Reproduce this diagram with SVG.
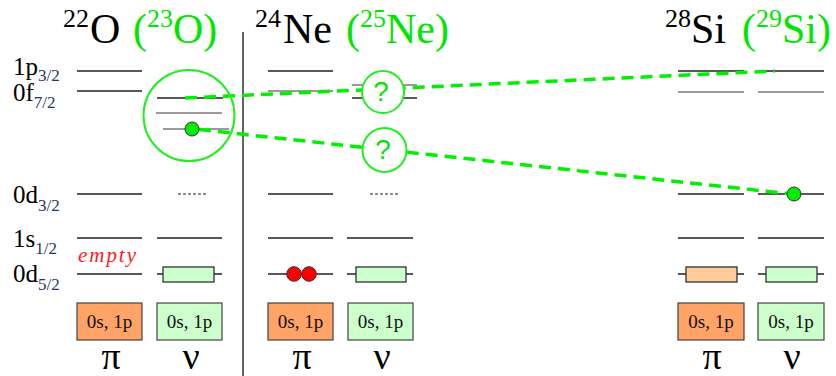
<svg xmlns="http://www.w3.org/2000/svg" width="836" height="376" viewBox="0 0 836 376">
<style>
.s{font-family:'Liberation Serif','DejaVu Serif','Times New Roman',serif}
.t{font-size:42px;fill:#000}
.sup{font-size:26px}
.g{fill:#00e600}
.lbl{font-size:25px;fill:#000}
.sub{font-size:17px;fill:#1f3566}
.lv{stroke:#222;stroke-width:1.4}
.lg{stroke:#7a7a7a;stroke-width:1.6}
.ld{stroke:#222;stroke-width:1.2;stroke-dasharray:3 2}
.dash{stroke:#00f000;stroke-width:3.5;stroke-dasharray:12 7;fill:none}
.ring{fill:none;stroke:#22ee22;stroke-width:2}
.q{fill:#fff;stroke:#22ee22;stroke-width:2}
.qt{font-family:'Liberation Sans','DejaVu Sans',Arial,sans-serif;font-size:28px;fill:#00e600;text-anchor:middle}
.bg{fill:#ccffcc;stroke:#333;stroke-width:1.3}
.bo{fill:#ffcc99;stroke:#333;stroke-width:1.3}
.co{fill:#ffa366;stroke:#444;stroke-width:1.2}
.cg{fill:#ccffcc;stroke:#444;stroke-width:1.2}
.ct{font-size:19px;text-anchor:middle;fill:#111}
.gr{font-size:38px;text-anchor:middle;fill:#000}
.dotg{fill:#00ee00;stroke:#333;stroke-width:1}
.dotr{fill:#ff0000;stroke:#333;stroke-width:1}
</style>
<rect width="836" height="376" fill="#fff"/>

<g id="titles" font-family="Liberation Serif, DejaVu Serif, serif">
<text class="s t"><tspan class="sup" x="63" y="27">22</tspan><tspan x="90" y="43">O</tspan><tspan class="g" x="133" y="43">(</tspan><tspan class="g sup" y="27">23</tspan><tspan class="g" y="43">O)</tspan></text>
<text class="s t"><tspan class="sup" x="255" y="27">24</tspan><tspan x="283" y="43">Ne</tspan><tspan class="g" x="346" y="43">(</tspan><tspan class="g sup" y="27">25</tspan><tspan class="g" y="43">Ne)</tspan></text>
<text class="s t"><tspan class="sup" x="665" y="27">28</tspan><tspan x="691" y="43">Si</tspan><tspan class="g" x="742" y="43">(</tspan><tspan class="g sup" y="27">29</tspan><tspan class="g" y="43">Si)</tspan></text>
</g>

<line id="divider" x1="243" y1="32" x2="243" y2="376" stroke="#222" stroke-width="1.4"/>

<g id="labels" font-family="Liberation Serif, DejaVu Serif, serif">
<text class="s lbl" x="13" y="75">1p<tspan class="sub" dy="6">3/2</tspan></text>
<text class="s lbl" x="13" y="101">0f<tspan class="sub" dy="7">7/2</tspan></text>
<text class="s lbl" x="13" y="203">0d<tspan class="sub" dy="8">3/2</tspan></text>
<text class="s lbl" x="13" y="247">1s<tspan class="sub" dy="7">1/2</tspan></text>
<text class="s lbl" x="13" y="282">0d<tspan class="sub" dy="8">5/2</tspan></text>
<text class="s" x="78" y="262" font-size="21" font-style="italic" fill="#ff1a1a" textLength="58">empty</text>
</g>

<g id="O22-pi" font-family="Liberation Serif, DejaVu Serif, serif">
<line class="lv" x1="77" y1="71" x2="142" y2="71"/>
<line class="lv" x1="77" y1="91" x2="142" y2="91"/>
<line class="lv" x1="77" y1="194" x2="142" y2="194"/>
<line class="lv" x1="77" y1="238" x2="142" y2="238"/>
<line class="lv" x1="77" y1="274" x2="142" y2="274"/>
<rect class="co" x="77" y="303" width="65" height="37"/>
<text class="s ct" x="109.5" y="328">0s, 1p</text>
<text class="s gr" x="111" y="369">π</text>
</g>

<g id="O22-nu" font-family="Liberation Serif, DejaVu Serif, serif">
<line class="lv" x1="157" y1="98" x2="223" y2="98"/>
<line class="lg" x1="156" y1="113" x2="222" y2="113"/>
<line class="lg" x1="163" y1="129" x2="229" y2="129"/>
<line class="ld" x1="178" y1="194" x2="207" y2="194"/>
<line class="lv" x1="157" y1="238" x2="222" y2="238"/>
<line class="lv" x1="157" y1="274" x2="222" y2="274"/>
<rect class="bg" x="163" y="267" width="51" height="15"/>
<rect class="cg" x="157" y="303" width="65" height="37"/>
<text class="s ct" x="189.5" y="328">0s, 1p</text>
<text class="s gr" x="191" y="369">ν</text>
</g>

<g id="Ne24-pi" font-family="Liberation Serif, DejaVu Serif, serif">
<line class="lv" x1="268" y1="71" x2="333" y2="71"/>
<line class="lg" x1="268" y1="91" x2="333" y2="91"/>
<line class="lv" x1="268" y1="194" x2="333" y2="194"/>
<line class="lv" x1="268" y1="238" x2="333" y2="238"/>
<line class="lv" x1="268" y1="274" x2="333" y2="274"/>
<circle class="dotr" cx="294" cy="274" r="7.3"/>
<circle class="dotr" cx="309" cy="274" r="7.3"/>
<rect class="co" x="268" y="303" width="65" height="37"/>
<text class="s ct" x="300.5" y="328">0s, 1p</text>
<text class="s gr" x="302" y="369">π</text>
</g>

<g id="Ne25-nu" font-family="Liberation Serif, DejaVu Serif, serif">
<line class="lg" x1="352" y1="85" x2="417" y2="85"/>
<line class="lv" x1="352" y1="98" x2="417" y2="98"/>
<line class="ld" x1="370" y1="194" x2="399" y2="194"/>
<line class="lv" x1="347" y1="238" x2="413" y2="238"/>
<line class="lv" x1="347" y1="274" x2="413" y2="274"/>
<rect class="bg" x="356" y="267" width="50" height="15"/>
<rect class="cg" x="348" y="303" width="65" height="37"/>
<text class="s ct" x="380.5" y="328">0s, 1p</text>
<text class="s gr" x="382" y="369">ν</text>
</g>

<g id="Si28-pi" font-family="Liberation Serif, DejaVu Serif, serif">
<line class="lv" x1="678" y1="71" x2="744" y2="71"/>
<line class="lg" x1="678" y1="92" x2="744" y2="92"/>
<line class="lv" x1="678" y1="194" x2="744" y2="194"/>
<line class="lv" x1="678" y1="238" x2="744" y2="238"/>
<line class="lv" x1="678" y1="274" x2="744" y2="274"/>
<rect class="bo" x="686" y="267" width="51" height="15"/>
<rect class="co" x="678" y="303" width="66" height="37"/>
<text class="s ct" x="711" y="328">0s, 1p</text>
<text class="s gr" x="712" y="369">π</text>
</g>

<g id="Si29-nu" font-family="Liberation Serif, DejaVu Serif, serif">
<line class="lv" x1="758" y1="71" x2="824" y2="71"/>
<line class="lg" x1="758" y1="92" x2="824" y2="92"/>
<line class="lv" x1="758" y1="194" x2="824" y2="194"/>
<line class="lv" x1="758" y1="238" x2="824" y2="238"/>
<line class="lv" x1="758" y1="274" x2="824" y2="274"/>
<rect class="bg" x="766" y="267" width="51" height="15"/>
<rect class="cg" x="758" y="303" width="66" height="37"/>
<text class="s ct" x="791" y="328">0s, 1p</text>
<text class="s gr" x="792" y="369">ν</text>
</g>

<g id="connectors">
<line class="dash" x1="185" y1="98" x2="775" y2="71"/>
<line class="dash" x1="199" y1="129.5" x2="787" y2="193.5"/>
</g>

<g id="O23-ring">
<circle class="ring" cx="189" cy="115.5" r="45.5"/>
<circle class="dotg" cx="192" cy="129" r="7"/>
</g>

<g id="q1">
<circle class="q" cx="383" cy="92" r="21"/>
<text class="qt" x="381" y="101">?</text>
</g>
<g id="q2">
<circle class="q" cx="384.5" cy="150" r="22"/>
<text class="qt" x="383" y="159">?</text>
</g>

<g id="Si29-dot">
<circle class="dotg" cx="794" cy="194" r="7"/>
</g>
</svg>
